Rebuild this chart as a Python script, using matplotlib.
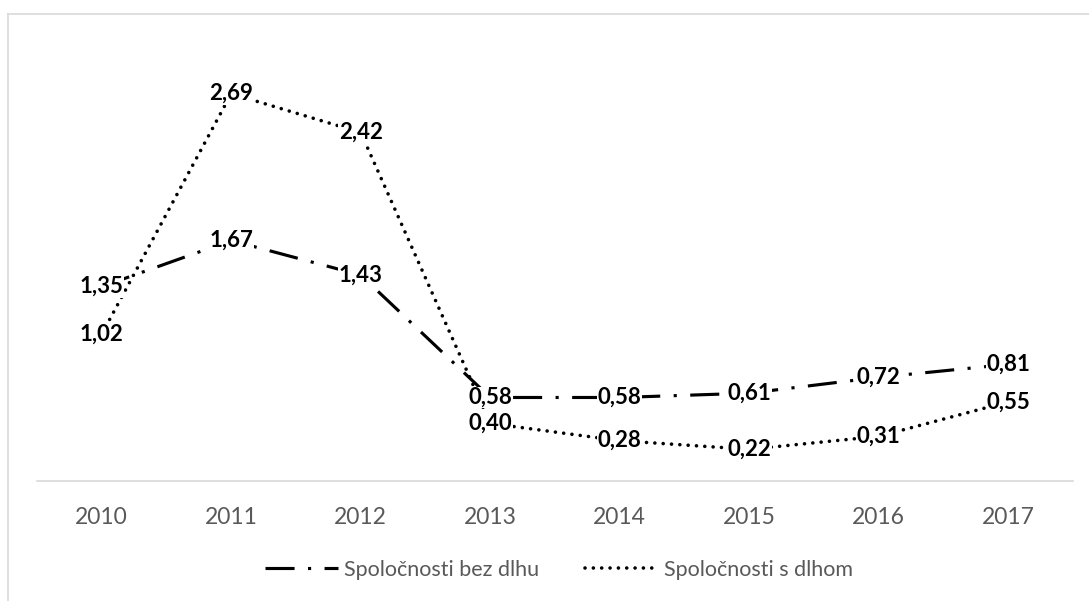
import matplotlib.pyplot as plt
from matplotlib.lines import Line2D

# Údaje
roky = ["2010", "2011", "2012", "2013", "2014", "2015", "2016", "2017"]
bez_dlhu = [1.35, 1.67, 1.43, 0.58, 0.58, 0.61, 0.72, 0.81]
s_dlhom = [1.02, 2.69, 2.42, 0.40, 0.28, 0.22, 0.31, 0.55]
nazvy = ["Spoločnosti bez dlhu", "Spoločnosti s dlhom"]

plt.rcParams['font.family'] = ['Lato', 'DejaVu Sans']

fig = plt.figure(figsize=(10.89, 6.01), dpi=100)
ax = fig.add_axes([37/1089, 120/601, 1036/1089, 432/601])

x = list(range(len(roky)))
l1, = ax.plot(x, bez_dlhu, color="black", lw=2.25, dashes=(9.3, 4.3, 1, 4.3),
              dash_capstyle="butt", label=nazvy[0], zorder=3)
l2, = ax.plot(x, s_dlhom, color="black", lw=2.6, dashes=(0.01, 2.3),
              dash_capstyle="round", label=nazvy[1], zorder=3)

# popisky hodnôt
for serie in (bez_dlhu, s_dlhom):
    for xi, v in zip(x, serie):
        ax.text(xi, v, f"{v:.2f}".replace(".", ","), ha="center", va="center",
                fontsize=16, fontweight="bold", color="black", zorder=5,
                bbox=dict(fc="white", ec="none", pad=0.3))

ax.set_xlim(-0.5, len(roky) - 0.5)
ax.set_ylim(0, 3)
ax.set_xticks(x)
ax.set_xticklabels(roky, fontsize=16.5, color="#595959")
ax.tick_params(axis="x", length=0, pad=19)
ax.set_yticks([])
for s in ("left", "right", "top"):
    ax.spines[s].set_visible(False)
ax.spines["bottom"].set_color("#d9d9d9")
ax.spines["bottom"].set_linewidth(1.2)

leg = fig.legend(handles=[l1, l2], loc="center", bbox_to_anchor=(559/1089, 31/601),
                 ncol=2, frameon=False, fontsize=15.5, handlelength=3.4,
                 handletextpad=0.3, columnspacing=2.1)
for t in leg.get_texts():
    t.set_color("#595959")

# okraj grafu
fig.add_artist(Line2D([8/1089, 8/1089], [0, 1 - 14/601], color="#d9d9d9", lw=1.2))
fig.add_artist(Line2D([8/1089, 1], [1 - 14/601, 1 - 14/601], color="#d9d9d9", lw=1.2))

fig.savefig("out.png", dpi=100)
